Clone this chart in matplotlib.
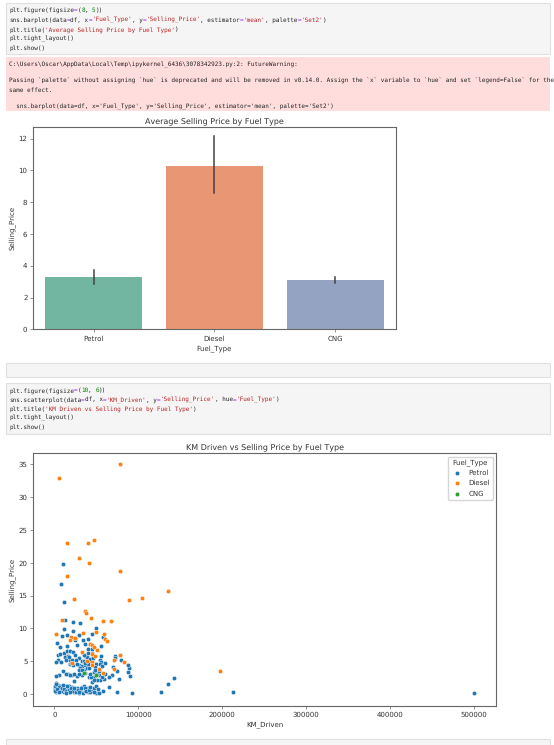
import re
import matplotlib
matplotlib.use("Agg")
import matplotlib.pyplot as plt
from matplotlib.patches import Rectangle

plt.rcParams["text.hinting"] = "no_hinting"
plt.rcParams["text.hinting_factor"] = 1

# Bar chart values
fuel_types = ["Petrol", "Diesel", "CNG"]
mean_price = [3.27, 10.28, 3.10]
ci_low = [2.83, 8.56, 2.90]
ci_high = [3.71, 12.14, 3.29]
bar_colors = ["#72b6a1", "#e99675", "#95a3c3"]

# Scatter values
petrol_km = [142100, 135400, 127000, 92500, 75000, 65100, 77400, 90100, 88100, 88900, 87700, 75000,
             69500, 69100, 64700, 59500, 54400, 50400, 44500, 79800, 72300, 72300, 56000, 60700,
             54400, 56000, 50000, 48000, 46800, 41700, 46800, 52800, 56400, 50800, 44100, 49600,
             30600, 22600, 12700, 11100, 21800, 29400, 9100, 15100, 24600, 24200, 34100, 40100,
             58000, 55600, 3200, 6700, 15100, 27400, 36900, 40100, 44900, 39700, 45300, 4000,
             7100, 11900, 15500, 18700, 21800, 12700, 4400, 2400, 15900, 19100, 24200, 29000,
             36100, 33000, 38900, 40900, 54800, 29000, 33000, 36900, 39700, 31000, 34900, 38900,
             36900, 33000, 27000, 21000, 15900, 9900, 13900, 5200, 2000, 23400, 19100, 21000,
             18300, 1600, 6400, 11100, 17100, 23000, 29000, 34100, 39700, 44900, 49600, 53600,
             57600, 2400, 4000, 1200, 7100, 11100, 17100, 21000, 27000, 33000, 34900, 39700,
             46800, 49600, 15100, 5200, 9100, 23000, 500, 2400, 13100, 19100, 25000, 31000,
             36900, 42900, 10700, 8300, 11900, 213000, 500000,
             3000, 4500, 6000, 8000, 9500, 12000, 13500, 15500, 18000, 20000, 22000, 24000,
             26000, 28000, 30000, 32000, 36000, 38000, 41000, 43000, 47000, 52000, 1000, 800,
             1500, 3500, 5500, 10000, 14500, 19000,
             14000, 17000, 20000, 22500, 26000, 27000, 30000, 35000, 37000, 42000, 46000, 48000,
             30000, 33500, 43000, 47000, 53000, 57000, 60000, 24000, 18500, 41000, 35000, 42000,
             8000, 45000]
petrol_price = [2.45, 1.45, 0.35, 0.1, 0.35, 1.0, 2.25, 2.7, 3.35, 3.9, 4.35, 3.45,
                4.05, 2.9, 2.6, 2.35, 2.15, 2.15, 1.9, 5.15, 5.75, 5.55, 5.8, 4.8,
                5.15, 4.9, 4.65, 4.05, 3.4, 2.65, 2.55, 2.9, 2.65, 3.0, 2.65, 10.1,
                10.75, 11.05, 11.3, 9.95, 9.55, 9.05, 8.9, 9.0, 8.55, 8.25, 8.25, 8.35,
                8.65, 7.3, 7.8, 7.15, 7.35, 7.4, 7.65, 6.8, 6.9, 6.2, 6.25, 5.9,
                6.15, 6.3, 6.5, 6.6, 6.35, 5.65, 5.25, 4.85, 5.85, 5.15, 5.9, 5.55,
                5.85, 5.0, 5.65, 4.9, 4.65, 4.35, 4.3, 4.4, 4.65, 3.9, 3.65, 3.9,
                3.15, 2.9, 2.8, 2.9, 3.05, 3.45, 3.05, 2.85, 2.8, 2.0, 4.5, 5.15,
                4.65, 0.3, 0.4, 0.35, 0.25, 0.25, 0.15, 0.15, 0.25, 0.4, 0.15, 0.15,
                0.4, 1.65, 1.4, 0.9, 1.15, 1.05, 1.25, 1.05, 0.9, 1.05, 1.15, 0.9,
                0.9, 1.25, 0.9, 0.65, 0.65, 0.65, 0.75, 0.75, 1.25, 0.75, 0.55, 0.55,
                0.4, 0.35, 19.75, 16.75, 14.05, 0.25, 0.2,
                0.5, 0.9, 1.1, 0.45, 0.95, 0.8, 0.4, 1.15, 0.55, 0.95, 0.4, 0.95,
                0.3, 0.6, 0.3, 0.9, 0.9, 0.5, 0.55, 1.0, 0.3, 0.7, 1.2, 0.45,
                1.45, 0.75, 0.3, 1.3, 0.2, 0.25,
                5.2, 5.6, 4.8, 4.4, 5.2, 4.6, 3.6, 5.1, 4.7, 5.4, 5.5, 3.6,
                3.1, 3.6, 3.1, 2.1, 3.5, 4.2, 3.0, 3.0, 2.9, 4.0, 6.0, 7.6,
                4.9, 9.1]
diesel_km = [77800, 6000, 15100, 40000, 46800, 29000, 41000, 77800, 15100, 23000, 89300, 104800,
             135000, 36100, 38100, 43700, 9100, 58400, 67900, 34100, 2000, 50000, 59200, 60300,
             63100, 20200, 19000, 25000, 42900, 44900, 46800, 51200, 33300, 44900, 48800, 77800,
             71000, 83400, 44900, 44900, 52800, 71500, 58000, 38900, 21000, 197200]
diesel_price = [35.0, 33.0, 23.0, 23.0, 23.5, 20.75, 20.0, 18.7, 18.0, 14.5, 14.3, 14.7,
                15.75, 12.7, 12.3, 11.6, 11.35, 11.1, 11.1, 9.35, 9.15, 9.5, 9.15, 8.4,
                8.1, 8.65, 8.25, 8.55, 7.65, 7.4, 7.15, 6.75, 6.45, 6.05, 5.85, 5.9,
                5.15, 4.85, 4.9, 4.45, 3.85, 3.85, 3.2, 5.0, 4.8, 3.45]
cng_km = [49600, 35000]
cng_price = [2.95, 3.25]

code_top = ["plt.figure(figsize=(8, 5))",
            "sns.barplot(data=df, x='Fuel_Type', y='Selling_Price', estimator='mean', palette='Set2')",
            "plt.title('Average Selling Price by Fuel Type')",
            "plt.tight_layout()",
            "plt.show()"]
code_bottom = ["plt.figure(figsize=(10, 6))",
               "sns.scatterplot(data=df, x='KM_Driven', y='Selling_Price', hue='Fuel_Type')",
               "plt.title('KM Driven vs Selling Price by Fuel Type')",
               "plt.tight_layout()",
               "plt.show()"]
warning = ["C:\\Users\\Oscar\\AppData\\Local\\Temp\\ipykernel_6436\\3078342923.py:2: FutureWarning:",
           "",
           "Passing `palette` without assigning `hue` is deprecated and will be removed in v0.14.0. Assign the `x` variable to `hue` and set `legend=False` for the",
           "same effect.",
           "",
           "  sns.barplot(data=df, x='Fuel_Type', y='Selling_Price', estimator='mean', palette='Set2')"]

W, H = 554, 745
CODE_SIZE = 4.2
TEXT = "#333333"
SPINE = "#666666"

fig = plt.figure(figsize=(W / 100, H / 100), dpi=100, facecolor="white")

# Page layer in pixel coordinates for the notebook cells
page = fig.add_axes([0, 0, 1, 1])
page.set_xlim(0, W)
page.set_ylim(H, 0)
page.axis("off")

# real advance of one mono character at this size
probe = page.text(0, 0, "x" * 100, family="DejaVu Sans Mono", fontsize=CODE_SIZE)
CHAR_W = probe.get_window_extent(fig.canvas.get_renderer()).width / 100
probe.remove()


def cell(y0, y1, face="#f5f5f5", edge="#e0e0e0"):
    page.add_patch(Rectangle((5.5, y0), 544, y1 - y0, facecolor=face, edgecolor=edge, linewidth=0.8))


def code_line(x, y, line):
    # colour tokens the way the notebook does
    for tok in re.split(r"('[^']*'|=|\b\d+\b)", line):
        if not tok:
            continue
        color = "#222222"
        if tok.startswith("'"):
            color = "#ba2121"
        elif tok == "=":
            color = "#aa22ff"
        elif tok.isdigit():
            color = "#008000"
        page.text(x, y, tok, family="DejaVu Sans Mono", fontsize=CODE_SIZE, color=color, va="center_baseline", ha="left")
        x += len(tok) * CHAR_W


cell(3.3, 54.3)
for y, line in zip([9.7, 19.7, 29, 38, 47], code_top):
    code_line(9, y, line)

page.add_patch(Rectangle((5.5, 57), 544, 53.7, facecolor="#ffdddd", edgecolor="none"))
for y, line in zip([64, 72.4, 80.7, 89.3, 97.5, 106], warning):
    page.text(9, y, line, family="DejaVu Sans Mono", fontsize=CODE_SIZE, color="#222222", va="center_baseline", ha="left")

cell(363.3, 377.3)
cell(383.3, 434.3)
for y, line in zip([390, 399.3, 408.7, 417.7, 426.7], code_bottom):
    code_line(9, y, line)
cell(739, 750)


def make_axes(left, right, top, bottom):
    ax = fig.add_axes([left / W, 1 - bottom / H, (right - left) / W, (bottom - top) / H])
    for s in ax.spines.values():
        s.set_color(SPINE)
        s.set_linewidth(0.8)
    ax.tick_params(labelsize=4.9, length=2.2, width=0.5, pad=2, color=SPINE, labelcolor=TEXT)
    return ax


# Bar chart
ax1 = make_axes(33.3, 395.7, 127, 329.3)
ax1.bar(fuel_types, mean_price, width=0.8, color=bar_colors)
for i in range(len(fuel_types)):
    ax1.plot([i, i], [ci_low[i], ci_high[i]], color="#424242", linewidth=1.1)
ax1.set_xlim(-0.5, 2.5)
ax1.set_ylim(0, 12.73)
ax1.set_yticks([0, 2, 4, 6, 8, 10, 12])
ax1.set_title("Average Selling Price by Fuel Type", fontsize=6, color=TEXT, pad=3)
ax1.set_xlabel("Fuel_Type", fontsize=4.9, color=TEXT, labelpad=2)
ax1.set_ylabel("Selling_Price", fontsize=4.9, color=TEXT, labelpad=2)

# Scatter chart
ax2 = make_axes(33.3, 496, 453.3, 706)
ax2.scatter(petrol_km, petrol_price, s=10, color="#1f77b4", edgecolors="white", linewidths=0.3, label="Petrol")
ax2.scatter(diesel_km, diesel_price, s=10, color="#ff7f0e", edgecolors="white", linewidths=0.3, label="Diesel")
ax2.scatter(cng_km, cng_price, s=10, color="#2ca02c", edgecolors="white", linewidths=0.3, label="CNG")
ax2.set_xlim(-25000, 526000)
ax2.set_ylim(-1.83, 36.7)
ax2.set_xticks([0, 100000, 200000, 300000, 400000, 500000])
ax2.set_yticks([0, 5, 10, 15, 20, 25, 30, 35])
ax2.set_title("KM Driven vs Selling Price by Fuel Type", fontsize=6.1, color=TEXT, pad=3)
ax2.set_xlabel("KM_Driven", fontsize=4.9, color=TEXT, labelpad=2)
ax2.set_ylabel("Selling_Price", fontsize=4.9, color=TEXT, labelpad=2)
leg = ax2.legend(title="Fuel_Type", loc="upper right", fontsize=4.9, title_fontsize=4.9, labelcolor=TEXT,
                 borderaxespad=0.5, handletextpad=0.6, labelspacing=0.5)
leg.get_title().set_color(TEXT)

plt.savefig("out.png", dpi=100)
